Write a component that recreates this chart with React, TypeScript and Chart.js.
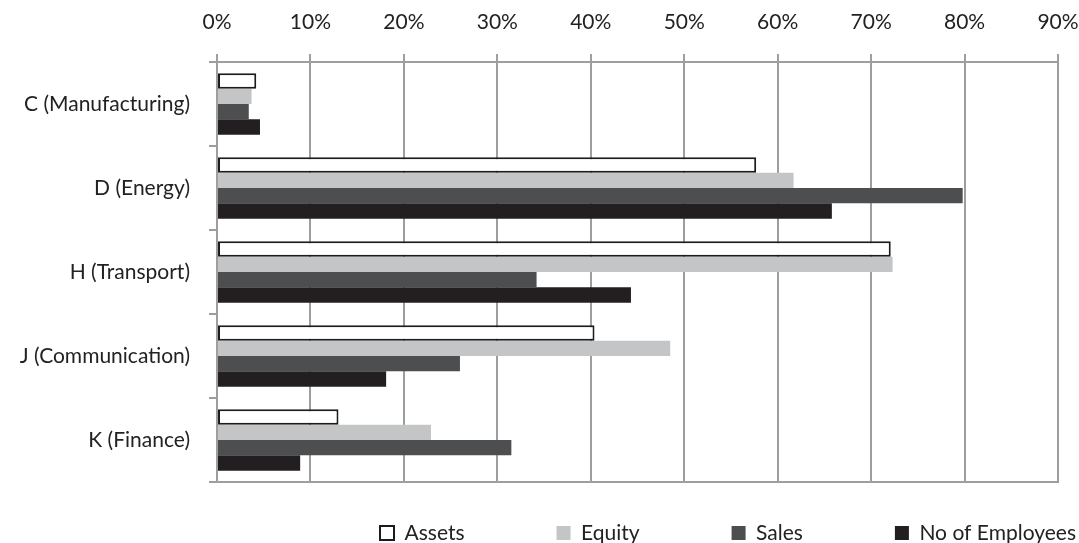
import React, { useEffect, useRef } from 'react';
import { Chart, registerables } from 'chart.js';

Chart.register(...registerables);

// ---- data (percent values) ----
const categories = ['C (Manufacturing)', 'D (Energy)', 'H (Transport)', 'J (Communication)', 'K (Finance)'];
const assets = [4.2, 57.7, 72.1, 40.4, 13.0];
const equity = [3.7, 61.7, 72.3, 48.5, 22.9];
const sales = [3.4, 79.8, 34.2, 26.0, 31.5];
const employees = [4.6, 65.8, 44.3, 18.1, 8.9];
const seriesNames = ['Assets', 'Equity', 'Sales', 'No of Employees'];
const xMin = 0;
const xMax = 90;
const xStep = 10;

// ---- styles ----
const FONT = 'Lato, "Open Sans", sans-serif';
const FONT_SIZE = 21;
const TEXT = '#222222';
const GRID = '#9e9e9e';
const LEGEND_FIRST_BOX = 380;
const LEGEND_MID = 533;
const LEGEND_GAP = 92;

const legendPlacer = {
  id: 'legendPlacer',
  afterLayout(chart: any) {
    const lg = chart.legend;
    if (!lg) return;
    const pad = lg.options.labels.padding;
    const dx = LEGEND_FIRST_BOX - pad - lg.left;
    lg.left += dx;
    lg.right = chart.width + pad + dx;
    const itemH = Math.max(FONT_SIZE, lg.options.labels.boxHeight || FONT_SIZE);
    lg.top = LEGEND_MID - pad - itemH / 2;
    lg.bottom = chart.height;
  },
};

const framePlugin = {
  id: 'frameBottom',
  beforeDatasetsDraw(chart: any) {
    const { ctx, chartArea } = chart;
    ctx.save();
    ctx.strokeStyle = GRID;
    ctx.lineWidth = 2;
    ctx.beginPath();
    ctx.moveTo(chartArea.left - 1, chartArea.bottom);
    ctx.lineTo(chartArea.right + 1, chartArea.bottom);
    ctx.stroke();
    ctx.restore();
  },
};

export default function App() {
  const ref = useRef<HTMLCanvasElement | null>(null);

  useEffect(() => {
    if (!ref.current) return;
    const chart = new Chart(ref.current, {
      type: 'bar',
      data: {
        labels: categories,
        datasets: [
          { label: seriesNames[0], data: assets, backgroundColor: '#ffffff', borderColor: '#1c1c1c', borderWidth: 2, borderSkipped: false },
          { label: seriesNames[1], data: equity, backgroundColor: '#c4c5c7', borderWidth: 0 },
          { label: seriesNames[2], data: sales, backgroundColor: '#4d4e50', borderWidth: 0 },
          { label: seriesNames[3], data: employees, backgroundColor: '#231f20', borderWidth: 0 },
        ],
      },
      options: {
        indexAxis: 'y',
        responsive: false,
        animation: false,
        devicePixelRatio: 1,
        layout: { padding: { left: 0, right: 21, top: 0, bottom: 0 } },
        datasets: { bar: { categoryPercentage: 0.73, barPercentage: 1 } },
        scales: {
          x: {
            position: 'top',
            min: xMin,
            max: xMax,
            ticks: {
              stepSize: xStep,
              padding: 19,
              color: TEXT,
              font: { family: FONT, size: FONT_SIZE },
              callback: (v: any) => v + '%',
            },
            grid: { color: GRID, lineWidth: 2, tickLength: 8, drawTicks: true },
            border: { display: true, color: GRID, width: 2 },
            afterFit: (s: any) => { s.height = 62; s.paddingLeft = 0; s.paddingRight = 0; },
          },
          y: {
            position: 'left',
            ticks: {
              padding: 19,
              color: TEXT,
              font: { family: FONT, size: FONT_SIZE },
            },
            grid: { offset: true, drawOnChartArea: false, color: GRID, lineWidth: 2, tickLength: 8 },
            border: { display: true, color: GRID, width: 2 },
            afterFit: (s: any) => { s.width = 217; s.paddingTop = 0; s.paddingBottom = 0; },
          },
        },
        plugins: {
          legend: {
            position: 'bottom',
            align: 'start',
            maxHeight: 61,
            labels: {
              boxWidth: 14,
              boxHeight: 14,
              padding: LEGEND_GAP,
              color: TEXT,
              font: { family: FONT, size: FONT_SIZE },
            },
          },
          tooltip: { enabled: false },
          title: { display: false },
        },
      },
      plugins: [legendPlacer, framePlugin],
    } as any);
    return () => chart.destroy();
  }, []);

  return (
    <div style={{ position: 'absolute', left: 0, top: 0, width: 1079, height: 543, background: '#fff' }}>
      <canvas ref={ref} width={1079} height={543} style={{ display: 'block' }} />
    </div>
  );
}
